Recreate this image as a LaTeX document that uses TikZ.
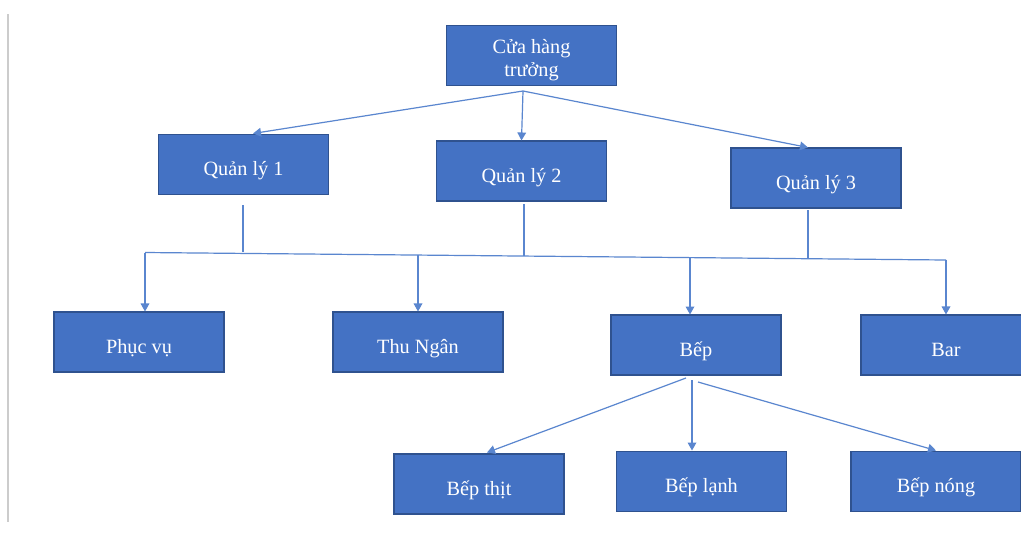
\documentclass[tikz,border=0pt]{standalone}
\usepackage{fontspec}
\setmainfont{Liberation Serif}
\usetikzlibrary{arrows.meta}
\definecolor{boxblue}{HTML}{4472C4}
\definecolor{boxedge}{HTML}{2F528F}
\definecolor{linkblue}{HTML}{5A86CF}
\begin{document}
\begin{tikzpicture}[x=0.75pt,y=-0.75pt,
  boxbase/.style={draw=boxedge,line width=0.8pt,fill=boxblue,text=white,
    minimum width=127.5pt,minimum height=45pt,inner sep=0pt,align=center,
    font=\fontsize{15.2}{17.5}\selectfont},
  box/.style={boxbase,text height=17pt,text depth=0.5pt},
  link/.style={draw=linkblue,line width=0.9pt},
  arr/.style={link,-{Triangle[width=6.5pt,length=6pt]}}]
\useasboundingbox (0,0) rectangle (1021,547);
\fill[white] (0,0) rectangle (1021,547);
\draw[black!20,line width=1pt] (8,14) -- (8,522);

% nodes
\node[boxbase] (top) at (531.5,55.5) {\rule{0pt}{18pt}Cửa hàng\\trưởng};
\node[box] (q1) at (243.5,164.5) {Quản lý 1};
\node[box] (q2) at (521.5,171) {Quản lý 2};
\node[box] (q3) at (816,178) {Quản lý 3};
\node[box] (pv) at (139,342) {Phục vụ};
\node[box] (tn) at (418,342) {Thu Ngân};
\node[box] (bep) at (696,345) {Bếp};
\node[box] (bar) at (946,345) {Bar};
\node[box] (bt) at (479,484) {Bếp thịt};
\node[box] (bl) at (701.5,481.5) {Bếp lạnh};
\node[box] (bn) at (936,481.5) {Bếp nóng};

% top fan-out
\coordinate (s0) at (523,91);
\draw[arr] (s0) -- (253,133.5);
\draw[arr] (s0) -- (q2.north);
\draw[arr] (s0) -- (808,147.5);

% managers to the shared bus
\coordinate (b1) at (243,251.5);
\coordinate (b2) at (524,255.5);
\coordinate (b3) at (808,259);
\draw[link] (243,205) -- (b1);
\draw[link] (524,204) -- (b2);
\draw[link] (808,210) -- (b3);
\coordinate (hl) at (145,252.5);
\coordinate (hr) at (946,260);
\draw[link] (hl) -- (hr);

% bus to departments
\draw[arr] (hl) -- (pv.north -| hl);
\draw[arr] (418,255) -- (tn.north);
\draw[arr] (690,257.5) -- (690,314.5);
\draw[arr] (hr) -- (hr |- bar.north);

% kitchen fan-out
\coordinate (k0) at (686,378);
\coordinate (k1) at (698,382);
\draw[arr] (k0) -- (487,452.5);
\draw[arr] (692,380) -- (692,450.5);
\draw[arr] (k1) -- (936,450.5);
\end{tikzpicture}
\end{document}
